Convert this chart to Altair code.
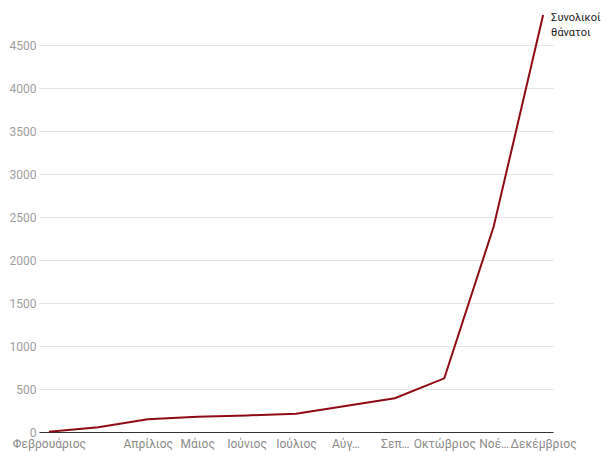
import altair as alt
import pandas as pd

months = ["Φεβρουάριος", "Μάρτιος", "Απρίλιος", "Μάιος", "Ιούνιος", "Ιούλιος",
          "Αύγουστος", "Σεπτέμβριος", "Οκτώβριος", "Νοέμβριος", "Δεκέμβριος"]
month_labels = ["Φεβρουάριος", "", "Απρίλιος", "Μάιος", "Ιούνιος", "Ιούλιος",
                "Αύγ…", "Σεπ…", "Οκτώβριος", "Νοέ…", "Δεκέμβριος"]
deaths = [2, 55, 148, 178, 193, 213, 302, 392, 624, 2390, 4850]
series_name = ["Συνολικοί", "θάνατοι"]
y_ticks = [0, 500, 1000, 1500, 2000, 2500, 3000, 3500, 4000, 4500]

df = pd.DataFrame({"month": months, "deaths": deaths})
label_map = "{" + ",".join(f"'{m}':'{l}'" for m, l in zip(months, month_labels)) + "}"

x = alt.X("month:N", sort=months, scale=alt.Scale(type="point", padding=0.2),
          axis=alt.Axis(title=None, labelAngle=0, ticks=False, domain=True,
                        domainColor="#333333", domainWidth=1.2,
                        labelColor="#8a8a8a", labelFontSize=12, labelFont="Roboto",
                        labelPadding=6, labelExpr=f"{label_map}[datum.value]",
                        labelOverlap=False, grid=False))
y = alt.Y("deaths:Q", scale=alt.Scale(domain=[0, 4850], nice=False, zero=True),
          axis=alt.Axis(title=None, values=y_ticks, format="d", ticks=False, domain=False,
                        labelColor="#9e9e9e", labelFontSize=12, labelFont="Roboto",
                        labelPadding=3, gridColor="#e5e5e5", gridWidth=1))

line = alt.Chart(df).mark_line(color="#8e0b14", strokeWidth=2).encode(x=x, y=y)

last = df.tail(1).assign(label=[series_name])
text = alt.Chart(last).mark_text(align="left", baseline="top", dx=8, dy=-3,
                                 font="Roboto", fontSize=11, color="#222222",
                                 lineHeight=15).encode(
    x=alt.X("month:N", sort=months), y=alt.Y("deaths:Q"), text="label")

chart = alt.layer(line, text).properties(
    width=514, height=417,
    autosize=alt.AutoSizeParams(type="none"),
    padding={"left": 31, "top": 7, "right": 50, "bottom": 24},
).configure_view(stroke=None)

chart.save("out.html", embed_options={"renderer": "svg", "actions": False})
